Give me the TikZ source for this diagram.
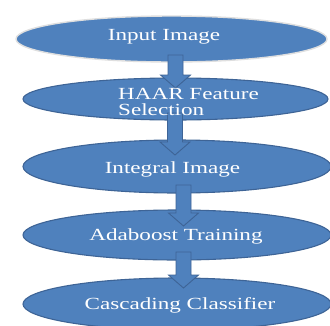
\documentclass[tikz,border=0pt]{standalone}
\usepackage{fontspec}
\usetikzlibrary{shapes.geometric,calc}
\newfontfamily\lblfont[FakeStretch=1.36]{Liberation Serif}
\definecolor{ofblue}{HTML}{4F81BD}
\definecolor{ofedge}{HTML}{3E6496}
\tikzset{
  oval/.style={ellipse, fill=ofblue, draw=ofedge, line width=1.1pt, inner sep=0pt},
  lbl/.style={text=white, font=\lblfont\fontsize{17}{17}\selectfont, inner sep=0pt},
  arr/.style={fill=ofblue, draw=ofedge, line width=0.9pt, line join=miter}
}
\newcommand\blockarr[3]{%
  \filldraw[arr] ($(#1)+(-7.5,0)$) -- ($(#1)+(7.5,0)$) -- ($(#2)+(7.5,-#3)$) -- ($(#2)+(15,-#3)$) -- (#2) -- ($(#2)+(-15,-#3)$) -- ($(#2)+(-7.5,-#3)$) -- cycle;}
\begin{document}
\begin{tikzpicture}[x=1pt,y=-1pt]
\useasboundingbox (0,0) rectangle (330,325);
\fill[white] (0,0) rectangle (330,325);
% ellipses
\node[oval, draw=gray!25, line width=1.4pt, minimum width=311pt, minimum height=46pt] (e1) at (171.5,39) {};
\node[oval, minimum width=305pt, minimum height=42pt] (e2) at (175.5,99) {};
\node[oval, minimum width=308pt, minimum height=53pt] (e3) at (177,166.5) {};
\node[oval, minimum width=308pt, minimum height=50pt] (e4) at (177,235) {};
\node[oval, minimum width=308pt, minimum height=52pt] (e5) at (177,304) {};
% arrows
\coordinate (a1s) at (175.5,55);  \coordinate (a1e) at (175.5,88);
\coordinate (a2s) at (175,113);   \coordinate (a2e) at (175,155);
\coordinate (a3s) at (183.5,185); \coordinate (a3e) at (183.5,226);
\coordinate (a4s) at (183.5,252); \coordinate (a4e) at (183.5,288);
\blockarr{a1s}{a1e}{13}
\blockarr{a2s}{a2e}{13}
\blockarr{a3s}{a3e}{13}
\blockarr{a4s}{a4e}{13}
% labels
\node[lbl, anchor=base] (t1) at (164,40.7) {Input Image};
\node[lbl, anchor=base west] (t2a) at (118,99.5) {HAAR Feature};
\node[lbl, anchor=base west] (t2b) at (118,115) {Selection};
\node[lbl, anchor=base] (t3) at (172.5,173) {Integral Image};
\node[lbl, anchor=base] (t4) at (176,240) {Adaboost Training};
\node[lbl, anchor=base] (t5) at (180,309) {Cascading Classifier};
\end{tikzpicture}
\end{document}
